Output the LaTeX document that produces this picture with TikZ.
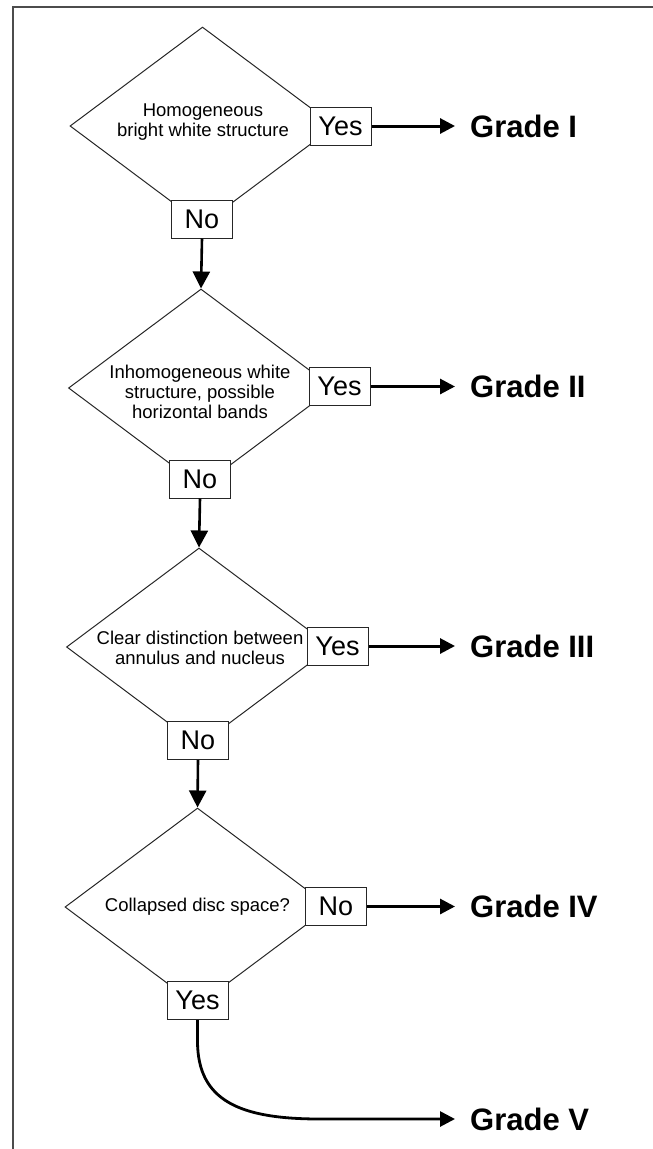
\documentclass[tikz,border=0pt]{standalone}
\usepackage{fontspec}
\setmainfont{Liberation Sans}
\usetikzlibrary{shapes.geometric,arrows.meta}
\begin{document}
\begin{tikzpicture}[x=1pt,y=-1pt,
 dec/.style={draw=black!85,line width=1pt,diamond,minimum width=265pt,minimum height=198pt,inner sep=0pt},
 qtext/.style={align=center,font=\fontsize{18.5}{20}\selectfont,inner sep=0pt},
 ans/.style={draw=black!85,fill=white,line width=1pt,minimum width=61pt,minimum height=38pt,inner sep=0pt,font=\fontsize{27}{27}\selectfont},
 grade/.style={anchor=west,inner xsep=15pt,inner ysep=0pt,font=\bfseries\fontsize{31}{31}\selectfont},
 harrow/.style={line width=3pt,-{Triangle[length=15pt,width=15pt]}},
 varrow/.style={line width=2.6pt,-{Triangle[length=17pt,width=17pt]}},
]
\useasboundingbox (0,0) rectangle (653,1149);
\draw[black!70,line width=1.2pt] (653,7) -- (13,7) -- (13,1149);

% diamonds
\node[dec] (D1) at (202.5,126) {};
\node[dec] (D2) at (201,388) {};
\node[dec] (D3) at (199,647) {};
\node[dec] (D4) at (197.5,907) {};

\node[qtext] (T1) at (203,122.5) {Homogeneous\\bright white structure};
\node[qtext] (T2) at (200,392) {Inhomogeneous white\\structure, possible\\horizontal bands};
\node[qtext] (T3) at (200,648) {Clear distinction between\\annulus and nucleus};
\node[qtext] (T4) at (197.5,907) {Collapsed disc space?};

% answer boxes
\node[ans] (Y1) at (340.5,126) {Yes};
\node[ans] (N1) at (202,219) {No};
\node[ans] (Y2) at (339.5,386.5) {Yes};
\node[ans] (N2) at (200,479) {No};
\node[ans] (Y3) at (337.5,646) {Yes};
\node[ans] (N3) at (198,740.5) {No};
\node[ans] (N4) at (336,906.5) {No};
\node[ans] (Y4) at (197.5,1000.5) {Yes};

% grades
\node[grade] (G1) at (455,126) {Grade I};
\node[grade] (G2) at (455,386.5) {Grade II};
\node[grade] (G3) at (455,646) {Grade III};
\node[grade] (G4) at (455,906.5) {Grade IV};
\node[grade] (G5) at (455,1119) {Grade V};

% connectors
\draw[harrow] (Y1.east) -- (G1.west);
\draw[harrow] (Y2.east) -- (G2.west);
\draw[harrow] (Y3.east) -- (G3.west);
\draw[harrow] (N4.east) -- (G4.west);
\draw[varrow] (N1.south) -- (D2.north);
\draw[varrow] (N2.south) -- (D3.north);
\draw[varrow] (N3.south) -- (D4.north);
\draw[harrow,line width=2.8pt] (Y4.south) -- ++(0,21) .. controls +(0,60) and (240,1119) .. (320,1119) -- (G5.west);
\end{tikzpicture}
\end{document}
